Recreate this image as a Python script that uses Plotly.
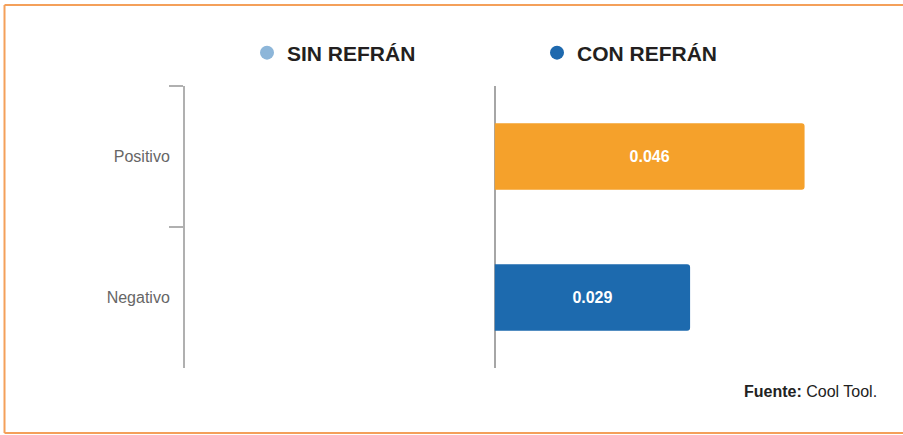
import plotly.graph_objects as go

categories = ["Positivo", "Negativo"]
con_refran = [0.046, 0.029]
bar_colors = ["#F5A12B", "#1D6AAE"]
legend_names = ["SIN REFRÁN", "CON REFRÁN"]
legend_colors = ["#8DB6D9", "#1E69AE"]
source_text = "<b>Fuente:</b> Cool Tool."

FONT = "Liberation Sans, Arial, Helvetica, sans-serif"

fig = go.Figure()

fig.add_trace(go.Bar(
    x=con_refran, y=categories, orientation="h",
    marker=dict(color=bar_colors, line=dict(width=0), cornerradius=3),
    width=0.47,
    texttemplate="%{x:.3f}", textposition="inside", insidetextanchor="middle",
    textfont=dict(color="white", size=16, family=FONT, weight="bold"),
    showlegend=False, hoverinfo="skip",
))

for name, col in zip(legend_names, legend_colors):
    fig.add_trace(go.Scatter(
        x=[None], y=[None], mode="markers", name=name,
        marker=dict(symbol="circle", size=14, color=col),
        showlegend=True,
    ))

frame = dict(color="#F4A05A", width=2)
x_left, x_right = -0.2597, 1.04
y_top, y_bot = 1.2872, -0.2305
fig.add_shape(type="line", xref="paper", yref="paper", x0=x_left, x1=x_right, y0=y_top, y1=y_top, line=frame)
fig.add_shape(type="line", xref="paper", yref="paper", x0=x_left, x1=x_left, y0=y_top, y1=y_bot, line=frame)
fig.add_shape(type="line", xref="paper", yref="paper", x0=x_left, x1=x_right, y0=y_bot, y1=y_bot, line=frame)

fig.add_annotation(
    text=source_text, xref="paper", yref="paper", x=1, y=-0.0816,
    xanchor="right", yanchor="middle", xshift=-1, showarrow=False,
    font=dict(family=FONT, size=16, color="#222222"),
)

fig.update_layout(
    width=903, height=435,
    margin=dict(l=185, r=23, t=86, b=67),
    paper_bgcolor="white", plot_bgcolor="white",
    font=dict(family=FONT),
    legend=dict(
        orientation="h", xref="container", yref="container",
        x=247 / 903, y=1 - 53 / 435, xanchor="left", yanchor="middle",
        font=dict(family=FONT, size=21, color="#231F20", weight="bold"),
        itemsizing="trace", entrywidth=245, entrywidthmode="pixels",
        bgcolor="rgba(0,0,0,0)",
    ),
    xaxis=dict(
        range=[-0.046, 0.0572], showgrid=False, showticklabels=False,
        zeroline=True, zerolinecolor="#A6A6A6", zerolinewidth=2,
        showline=False, ticks="",
    ),
    yaxis=dict(
        type="category", categoryorder="array", categoryarray=categories,
        autorange="reversed", range=[1.5, -0.5],
        showline=True, linecolor="#B0B0B0", linewidth=2,
        ticks="outside", tickson="boundaries", ticklen=14, tickwidth=2, tickcolor="#B0B0B0",
        showgrid=False, zeroline=False,
        tickfont=dict(family=FONT, size=16, color="#666666"),
        ticklabelstandoff=10,
    ),
)

fig.write_html("out.html", config={"displayModeBar": False},
               post_script="document.body.style.margin='0px';")
